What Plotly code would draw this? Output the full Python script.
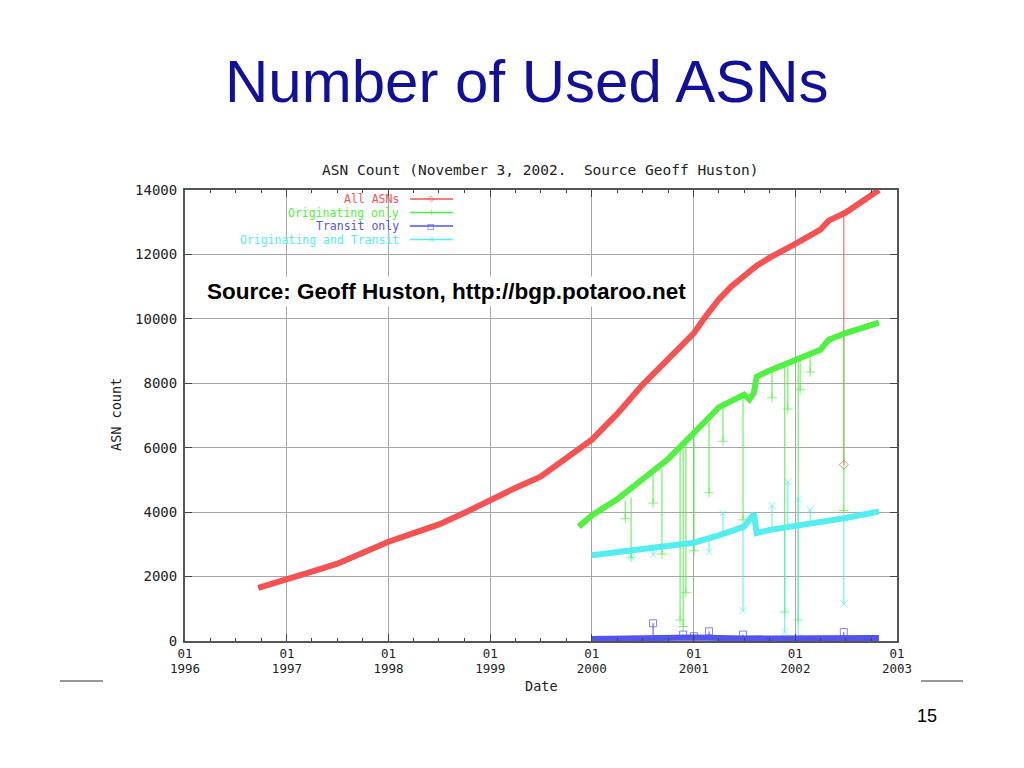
import plotly.graph_objects as go

# ---------------- data ----------------
all_dates = ["1996-09-20", "1997-01-01", "1997-04-01", "1997-07-01", "1997-10-01",
             "1998-01-01", "1998-04-01", "1998-07-01", "1998-10-01", "1999-01-01",
             "1999-04-01", "1999-07-01", "1999-10-01", "2000-01-01", "2000-04-01",
             "2000-07-01", "2000-10-01", "2000-11-15", "2001-01-01", "2001-02-15",
             "2001-04-01", "2001-05-15", "2001-07-01", "2001-08-15", "2001-10-01",
             "2001-11-15", "2002-01-01", "2002-04-01", "2002-05-01", "2002-07-01",
             "2002-10-28"]
all_asns = [1650, 1900, 2150, 2400, 2750, 3080, 3350, 3620, 3980, 4380,
            4750, 5100, 5650, 6250, 7050, 7950, 8750, 9150, 9550, 10100,
            10600, 11000, 11350, 11650, 11900, 12100, 12330, 12770, 13050, 13300,
            14000]

orig_dates = ["1999-11-15", "2000-01-01", "2000-04-01", "2000-07-01", "2000-10-01",
              "2001-01-01", "2001-04-01", "2001-07-01", "2001-07-20", "2001-08-05",
              "2001-08-15", "2001-10-01", "2002-01-01", "2002-04-01", "2002-05-01",
              "2002-07-01", "2002-10-28"]
orig_only = [3550, 3900, 4400, 5000, 5650, 6450, 7250, 7650, 7500, 7700,
             8200, 8400, 8720, 9040, 9350, 9560, 9880]

ot_dates = ["2000-01-01", "2000-04-01", "2000-07-01", "2000-10-01", "2001-01-01",
            "2001-04-01", "2001-07-01", "2001-08-05", "2001-08-15", "2001-10-01",
            "2002-01-01", "2002-04-01", "2002-05-01", "2002-07-01", "2002-10-28"]
orig_transit = [2660, 2750, 2860, 2950, 3050, 3280, 3550, 3950, 3350, 3450,
                3560, 3700, 3750, 3820, 4020]

tr_dates = ["2000-01-01", "2000-07-01", "2001-01-01", "2001-07-01", "2002-01-01",
            "2002-04-01", "2002-10-28"]
transit_only = [60, 90, 110, 80, 70, 90, 90]

# outliers: (date, value on trend, outlier value)
all_spike_dates = ["2002-06-24"]
all_spike_from = [13300]
all_spike_to = [5470]

orig_spike_dates = ["2000-04-30", "2000-05-21", "2000-08-08", "2000-09-09", "2000-11-13",
                    "2000-11-24", "2000-12-04", "2001-01-02", "2001-02-25", "2001-04-16",
                    "2001-06-27", "2001-10-09", "2001-11-24", "2001-12-05", "2002-01-11",
                    "2002-01-18", "2002-02-23", "2002-06-24"]
orig_spike_from = [4350, 4450, 5150, 5350, 6000, 6100, 6150, 6450, 6800, 7300,
                   7600, 8420, 8600, 8650, 8750, 8800, 8900, 9500]
orig_spike_to = [3800, 2600, 4280, 2700, 650, 450, 1500, 2800, 4600, 6200,
                 3760, 7550, 900, 7200, 650, 7800, 8350, 4050]

ot_spike_dates = ["2000-05-21", "2000-08-08", "2001-02-25", "2001-04-16", "2001-06-27",
                  "2001-10-09", "2001-11-24", "2001-12-05", "2002-01-11", "2002-01-11",
                  "2002-02-23", "2002-06-24"]
ot_spike_from = [2770, 2880, 3150, 3280, 3500, 3450, 3480, 3500, 3560, 3560, 3600, 3780]
ot_spike_to = [2600, 2680, 2770, 3970, 950, 4200, 280, 4940, 4400, 100, 4070, 1150]

tr_spike_dates = ["2000-08-08", "2000-11-24", "2001-01-02", "2001-02-25", "2001-06-27",
                  "2002-06-24"]
tr_spike_from = [90, 100, 100, 100, 90, 90]
tr_spike_to = [550, 200, 150, 300, 200, 280]

year_ticks = ["1996-01-01", "1997-01-01", "1998-01-01", "1999-01-01", "2000-01-01",
              "2001-01-01", "2002-01-01", "2003-01-01"]
month_labels = ["01", "01", "01", "01", "01", "01", "01", "01"]
year_labels = ["1996", "1997", "1998", "1999", "2000", "2001", "2002", "2003"]

series_names = ["All ASNs", "Originating only", "Transit only", "Originating and Transit"]

# ---------------- styling ----------------
RED = "#f55353"
GREEN = "#52f043"
BLUE = "#5353ee"
CYAN = "#55eef0"
MONO = "DejaVu Sans Mono"
TXT = "#222222"

fig = go.Figure()


def spikes(dates, frm, to):
    xs, ys, sz = [], [], []
    for d, a, b in zip(dates, frm, to):
        xs += [d, d, None]
        ys += [a, b, None]
        sz += [0, 7, 0]
    return xs, ys, sz


def add_series(dates, vals, sd, sf, st, color, width, symbol):
    xs, ys, sz = spikes(sd, sf, st)
    fig.add_trace(go.Scatter(x=xs, y=ys, mode="lines+markers",
                             line=dict(color=color, width=1),
                             marker=dict(symbol=symbol, size=sz, color=color,
                                         line=dict(color=color, width=1)),
                             showlegend=False, hoverinfo="skip", connectgaps=False))
    fig.add_trace(go.Scatter(x=dates, y=vals, mode="lines",
                             line=dict(color=color, width=width),
                             showlegend=False))


add_series(all_dates, all_asns, all_spike_dates, all_spike_from, all_spike_to,
           RED, 6, "diamond-open")
add_series(orig_dates, orig_only, orig_spike_dates, orig_spike_from, orig_spike_to,
           GREEN, 6, "cross-thin")
add_series(ot_dates, orig_transit, ot_spike_dates, ot_spike_from, ot_spike_to,
           CYAN, 6, "x-thin")
add_series(tr_dates, transit_only, tr_spike_dates, tr_spike_from, tr_spike_to,
           BLUE, 6, "square-open")

# empty trace so that the second (year-label) axis is drawn
fig.add_trace(go.Scatter(x=[], y=[], xaxis="x2", showlegend=False, hoverinfo="skip"))

# ---------------- layout ----------------
L, R, T, B = 185, 897, 190, 641
W, H = 1024, 768
pw, ph = R - L, B - T


def px(xp):
    return (xp - L) / pw


def py(yp):
    return (B - yp) / ph


annotations = []
shapes = []

annotations.append(dict(text="Number of Used ASNs", x=px(527), y=py(82), xref="paper",
                        yref="paper", showarrow=False, xanchor="center", yanchor="middle",
                        font=dict(family="Liberation Sans", size=60, color="#10109a")))
annotations.append(dict(text="ASN Count (November 3, 2002.  Source Geoff Huston)",
                        x=px(540), y=py(170), xref="paper", yref="paper", showarrow=False,
                        xanchor="center", yanchor="middle",
                        font=dict(family=MONO, size=14.5, color=TXT)))
annotations.append(dict(text="Date", x=px(541), y=py(686), xref="paper", yref="paper",
                        showarrow=False, xanchor="center", yanchor="middle",
                        font=dict(family=MONO, size=13.5, color=TXT)))
annotations.append(dict(text="ASN count", x=px(116), y=py(415), xref="paper", yref="paper",
                        showarrow=False, xanchor="center", yanchor="middle", textangle=-90,
                        font=dict(family=MONO, size=13.5, color=TXT)))
annotations.append(dict(text="<b>Source: Geoff Huston, http://bgp.potaroo.net</b>",
                        x=px(204), y=py(291), xref="paper", yref="paper", showarrow=False,
                        xanchor="left", yanchor="middle", bgcolor="white", borderpad=2,
                        font=dict(family="Liberation Sans", size=22.5, color="black")))
annotations.append(dict(text="15", x=px(927), y=py(716), xref="paper", yref="paper",
                        showarrow=False, xanchor="center", yanchor="middle",
                        font=dict(family="Liberation Sans", size=18, color="black")))

# gnuplot-style key
key_rows = [199, 212.5, 226, 239.5]
key_colors = [RED, GREEN, BLUE, CYAN]
key_glyphs = ["◇", "+", "□", "×"]
for name, yy, c, g in zip(series_names, key_rows, key_colors, key_glyphs):
    annotations.append(dict(text=name, x=px(401), y=py(yy), xref="paper", yref="paper",
                            showarrow=False, xanchor="right", yanchor="middle",
                            font=dict(family=MONO, size=11.5, color=c)))
    shapes.append(dict(type="line", xref="paper", yref="paper", x0=px(410), x1=px(453),
                       y0=py(yy), y1=py(yy), line=dict(color=c, width=1.3)))
    annotations.append(dict(text=g, x=px(431), y=py(yy), xref="paper", yref="paper",
                            showarrow=False, xanchor="center", yanchor="middle",
                            font=dict(family="DejaVu Sans", size=8, color=c)))

shapes.append(dict(type="line", xref="paper", yref="paper", x0=px(60), x1=px(103),
                   y0=py(681), y1=py(681), line=dict(color="#333333", width=1)))
shapes.append(dict(type="line", xref="paper", yref="paper", x0=px(921), x1=px(963),
                   y0=py(681), y1=py(681), line=dict(color="#333333", width=1)))

xtickfont = dict(family=MONO, size=12.5, color=TXT)
ytickfont = dict(family=MONO, size=14, color=TXT)

fig.update_layout(
    width=W, height=H,
    autosize=False,
    margin=dict(l=L, r=W - R, t=T, b=H - B, pad=0),
    paper_bgcolor="white", plot_bgcolor="white",
    annotations=annotations, shapes=shapes,
    showlegend=False,
    xaxis=dict(type="date", range=["1996-01-01", "2003-01-01"],
               tickmode="array", tickvals=year_ticks, ticktext=month_labels,
               ticks="inside", ticklen=7, tickcolor="#444444", tickwidth=1,
               minor=dict(dtick="M3", tick0="1996-01-01", ticks="inside", ticklen=3,
                          tickcolor="#444444", showgrid=False),
               showgrid=True, gridcolor="#a8a8a8", gridwidth=1,
               showline=True, linecolor="#555555", linewidth=2, mirror="ticks",
               zeroline=False, ticklabelstandoff=0, tickfont=xtickfont),
    xaxis2=dict(type="date", range=["1996-01-01", "2003-01-01"], overlaying="x",
                anchor="y", side="bottom",
                tickmode="array", tickvals=year_ticks, ticktext=year_labels,
                ticks="", showgrid=False, showline=False, zeroline=False,
                ticklabelstandoff=18, tickfont=xtickfont),
    yaxis=dict(range=[0, 14000], tickmode="linear", tick0=0, dtick=2000,
               tickformat="d",
               ticks="inside", ticklen=7, tickcolor="#444444",
               showgrid=True, gridcolor="#a8a8a8", gridwidth=1,
               showline=True, linecolor="#555555", linewidth=2, mirror="ticks",
               zeroline=False, ticklabelstandoff=3, tickfont=ytickfont),
)

fig.write_html("out.html", config={"displayModeBar": False},
               post_script="document.body.style.margin='0px';")
